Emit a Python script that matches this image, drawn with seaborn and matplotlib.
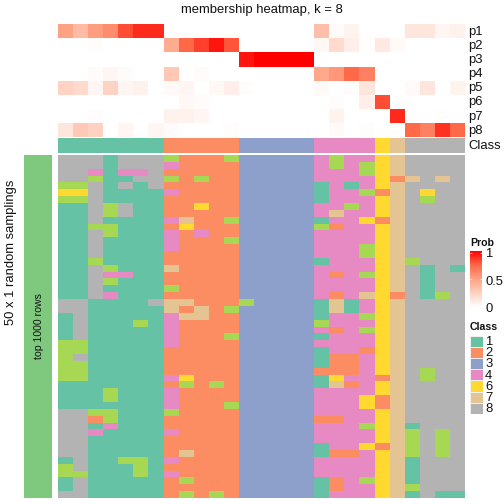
import numpy as np
import matplotlib
matplotlib.use("Agg")
import matplotlib.pyplot as plt
from matplotlib.colors import ListedColormap, LinearSegmentedColormap
import seaborn as sns

plt.rcParams['font.family'] = ['Liberation Sans', 'DejaVu Sans']

prob_labels = ['p1', 'p2', 'p3', 'p4', 'p5', 'p6', 'p7', 'p8']
p1 = [.50, .37, .52, .60, .82, .90, .90, 0, 0, 0, 0, 0, 0, 0, 0, 0, 0, .35, .02, .07, 0, 0, 0, .14, .14, .05, .08]
p2 = [0, 0, .015, 0, 0, 0, 0, .45, .75, .85, .95, .80, 0, 0, 0, 0, 0, .04, .20, .09, .01, .12, .03, 0, 0, 0, 0]
p3 = [0, 0, 0, 0, 0, 0, 0, 0, 0, 0, 0, 0, .95, 1, 1, 1, 1, 0, 0, 0, 0, 0, 0, 0, 0, 0, 0]
p4 = [0, 0, .02, .05, .02, 0, 0, .30, 0, .02, 0, 0, 0, 0, 0, 0, 0, .47, .55, .75, .65, 0, 0, 0, 0, 0, 0]
p5 = [.24, .20, .05, .24, .05, .08, 0, .03, .05, 0, .04, .09, .015, 0, 0, 0, 0, .03, 0, .015, .14, 0, 0, .03, .14, 0, .07]
p6 = [0, 0, 0, 0, 0, 0, 0, 0, .04, .02, 0, 0, 0, 0, 0, 0, 0, 0, .015, 0, .09, .82, 0, 0, 0, 0, 0]
p7 = [0, 0, .015, 0, 0, 0, 0, .08, .08, .05, 0, 0, 0, 0, 0, 0, 0, 0, .07, 0, 0, 0, .90, 0, 0, .01, 0]
p8 = [.14, .29, .25, 0, .05, 0, .05, .02, 0, 0, 0, .015, 0, 0, 0, 0, 0, 0, .03, 0, .015, 0, 0, .75, .65, .88, .75]

class_bar = "111111122222333334444678888"

samplings = [
    "888188852225333334544678888", "888188842222333334545678888",
    "884144822222333334445678888", "885118852522333334444627878",
    "558181822222333331414678888", "668111142222333331445278688",
    "558111122222333331444678588", "118581122622333334454678888",
    "118581122222333334744678888", "118111147225333331446278888",
    "115511126222333335244678888", "118511142422333334444678888",
    "118111142225333334444678888", "118111142222333334445678888",
    "118111122222333334445678888", "115111122222333331444675888",
    "118511172222333334444678181", "118441122222333334245678188",
    "118511122222333334444678188", "118111152222333334444678188",
    "118411122222333334247628158", "881111877222533331714678888",
    "881111172725333331714678888", "181111147722333331445678888",
    "181115142222333335444678888", "181111142222333334245678888",
    "181111142225333331444678888", "551111142222333334444678888",
    "551111122222333331442678888", "581111122222333331224678888",
    "551111122222333331224678888", "551111122222333332224678588",
    "551111146222333331644278588", "111111125252333331724678888",
    "111511142222333334444678888", "111511142222333334446278888",
    "111111142225333334446278888", "885511152222333334444678888",
    "882511122222333332244678888", "881411122222333334445671888",
    "884111142222333334444675858", "881111122222333334444675858",
    "881111122222333331446275858", "881111127222333331224675858",
    "181155142222333334444671888", "581115122222333334444671888",
    "551115142222333334444671888", "181111125222333331245671888",
    "181111122222333331244675888", "881111125252333331444671811",
]

class_ids = [1, 2, 3, 4, 5, 6, 7, 8]
class_colors = ['#66C2A5', '#FC8D62', '#8DA0CB', '#E78AC3', '#A6D854', '#FFD92F', '#E5C494', '#B3B3B3']
legend_classes = [1, 2, 3, 4, 6, 7, 8]
prob_ticks = ['0', '0.5', '1']

W = H = 504
fig = plt.figure(figsize=(7, 7), dpi=72, facecolor='white')


def pax(x0, y0, x1, y1):
    return fig.add_axes([x0 / W, 1 - y1 / H, (x1 - x0) / W, (y1 - y0) / H])


def txt(x, y, s, **kw):
    kw.setdefault('va', 'center')
    kw.setdefault('ha', 'left')
    kw.setdefault('color', '#111111')
    fig.text(x / W, 1 - y / H, s, **kw)


def as_grid(rows):
    return np.array([[int(c) for c in r] for r in rows])


prob_cmap = LinearSegmentedColormap.from_list(
    'prob', [(0, '#FFFFFF'), (.25, '#FFD1C1'), (.5, '#FFA284'), (.75, '#FF6A48'), (1, '#FF0000')])
class_cmap = ListedColormap(class_colors)
class_kw = dict(cmap=class_cmap, vmin=.5, vmax=8.5, cbar=False, xticklabels=False, yticklabels=False)

X0, X1 = 58, 465
FS = 13

# membership probabilities, with the colour bar
ax_top = pax(X0, 24, X1, 137.5)
cax = pax(470, 251, 482, 307)
sns.heatmap(np.array([p1, p2, p3, p4, p5, p6, p7, p8]), ax=ax_top, cmap=prob_cmap, vmin=0, vmax=1,
            xticklabels=False, yticklabels=False, cbar=True, cbar_ax=cax)
cax.set_yticks([0, .5, .96])
cax.set_yticklabels([])
cax.tick_params(axis='y', direction='in', color='white', length=2, width=.8, left=True, right=True)
for s in cax.spines.values():
    s.set_visible(False)
for i, lab in enumerate(prob_labels):
    txt(468, 32 + i * 14.1, lab, fontsize=FS)

# class annotation
ax_cls = pax(X0, 138, X1, 153)
sns.heatmap(as_grid([class_bar]), ax=ax_cls, **class_kw)
txt(468, 146, 'Class', fontsize=FS)

# main class matrix
ax_main = pax(X0, 155, X1, 498)
sns.heatmap(as_grid(samplings), ax=ax_main, **class_kw)

# left strip
ax_left = pax(24, 155, 52, 498)
sns.heatmap(np.zeros((1, 1)), ax=ax_left, cmap=ListedColormap(['#7FC97F']), cbar=False,
            xticklabels=False, yticklabels=False)
txt(38.5, 326.5, 'top 1000 rows', rotation=90, ha='center', fontsize=10.5)
txt(11, 252.5, '50 x 1 random samplings', rotation=90, ha='center', fontsize=FS)

txt(261.5, 10, 'membership heatmap, k = 8', ha='center', fontsize=FS)

# legends
txt(470, 243, 'Prob', fontsize=10.5, fontweight='bold')
for lab, y in zip(prob_ticks, [309, 282, 254]):
    txt(485, y, lab, fontsize=FS)

txt(470, 327, 'Class', fontsize=10.5, fontweight='bold')
ax_leg = pax(470, 335.5, 482.5, 414)
sns.heatmap(np.array(legend_classes).reshape(-1, 1), ax=ax_leg, linewidths=1, linecolor='#F0F0F0', **class_kw)
for i, c in enumerate(legend_classes):
    txt(485, 342 + i * 11.2, str(c), fontsize=FS)

fig.savefig('out.png', dpi=72, facecolor='white')
